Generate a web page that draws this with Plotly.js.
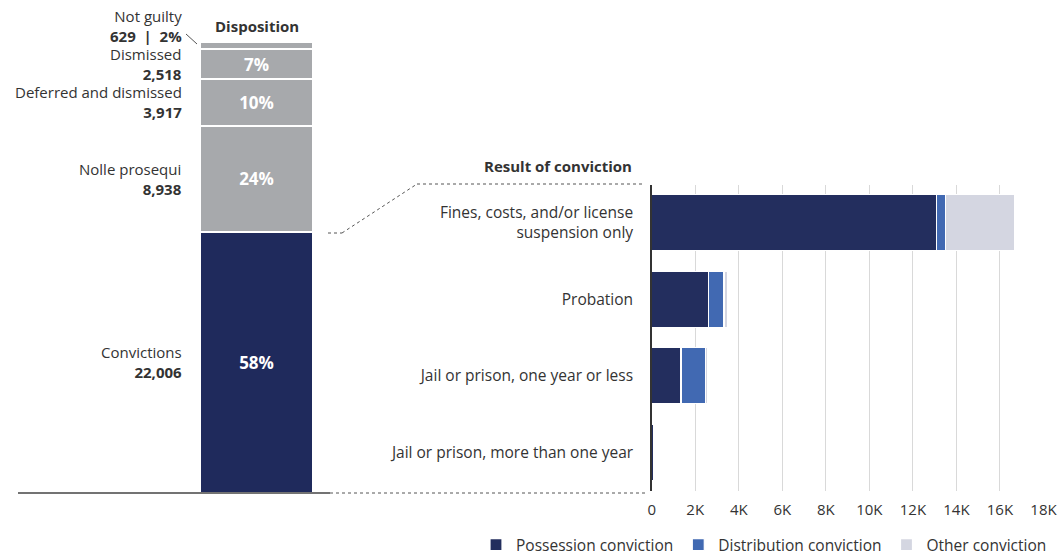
<!DOCTYPE html>
<html>
<head>
<meta charset="utf-8">
<script src="https://cdn.plot.ly/plotly-3.0.1.min.js"></script>
<style>html,body{margin:0;padding:0;background:#fff;}#chart{width:1059px;height:556px;}</style>
</head>
<body>
<div id="chart"></div>
<script>
// ---- Data ----
const dispCategories = ['Convictions', 'Nolle prosequi', 'Deferred and dismissed', 'Dismissed', 'Not guilty'];
const dispCounts = [22006, 8938, 3917, 2518, 629];

const resultCategories = ['Fines, costs, and/or license<br>suspension only', 'Probation', 'Jail or prison, one year or less', 'Jail or prison, more than one year'];
const possession = [13100, 2600, 1350, 70];
const distribution = [400, 720, 1110, 40];
const other = [3180, 150, 110, 10];

const seriesNames = ['Possession conviction', 'Distribution conviction', 'Other conviction'];
const xTickVals = [0, 2000, 4000, 6000, 8000, 10000, 12000, 14000, 16000, 18000];
const xTickLabels = ['0', '2K', '4K', '6K', '8K', '10K', '12K', '14K', '16K', '18K'];

// ---- Styles ----
const W = 1059, H = 556;
const FONT = 'Open Sans, Noto Sans, sans-serif';
const TXT = '#333333';
const dispColors = ['#1f2a5c', '#a7a9ac', '#a7a9ac', '#a7a9ac', '#a7a9ac'];
const seriesColors = ['#232e5e', '#4169b2', '#d4d6e1'];
const px = v => v / W;
const py = v => (H - v) / H;

const total = dispCounts.reduce((a, b) => a + b, 0);
const pct = dispCounts.map(c => Math.round(c / total * 100));

const traces = [];
dispCategories.forEach((cat, i) => {
  traces.push({
    type: 'bar', x: [0], y: [dispCounts[i]], width: [1],
    xaxis: 'x', yaxis: 'y', name: cat, showlegend: false,
    marker: {color: dispColors[i], line: {color: '#ffffff', width: 2}},
    text: [cat === 'Not guilty' ? '' : '<b>' + pct[i] + '%</b>'],
    textposition: 'inside', insidetextanchor: 'middle', constraintext: 'none',
    textfont: {family: FONT, size: 17, color: '#ffffff'},
    hoverinfo: 'skip'
  });
});

[possession, distribution, other].forEach((vals, i) => {
  traces.push({
    type: 'bar', orientation: 'h', x: vals, y: resultCategories,
    xaxis: 'x2', yaxis: 'y2', name: seriesNames[i],
    marker: {color: seriesColors[i], line: {color: '#ffffff', width: 1.2}},
    hoverinfo: 'skip'
  });
});

// Left side labels (annotations at segment centres)
const annotations = [];
let cum = 0;
dispCategories.forEach((cat, i) => {
  const mid = cum + dispCounts[i] / 2;
  cum += dispCounts[i];
  if (cat === 'Not guilty') {
    annotations.push({
      xref: 'paper', yref: 'paper', x: px(184), y: py(26), xanchor: 'right', yanchor: 'middle',
      align: 'right', showarrow: false,
      text: cat + '<br><b>' + dispCounts[i].toLocaleString('en-US') + '  |  ' + pct[i] + '%</b>',
      font: {family: FONT, size: 15, color: TXT}
    });
  } else {
    annotations.push({
      xref: 'paper', yref: 'y', x: px(184), y: mid, xanchor: 'right', yanchor: 'middle',
      align: 'right', showarrow: false,
      text: cat + '<br><b>' + dispCounts[i].toLocaleString('en-US') + '</b>',
      font: {family: FONT, size: 15, color: TXT}
    });
  }
});
annotations.push({
  xref: 'paper', yref: 'paper', x: px(256.5), y: py(26), xanchor: 'center', yanchor: 'middle',
  showarrow: false, text: '<b>Disposition</b>', font: {family: FONT, size: 15, color: TXT}
});
annotations.push({
  xref: 'paper', yref: 'paper', x: px(634), y: py(166), xanchor: 'right', yanchor: 'middle',
  showarrow: false, text: '<b>Result of conviction</b>', font: {family: FONT, size: 15, color: TXT}
});

const dot = {color: '#555555', width: 1, dash: 'dot'};
const shapes = [
  {type: 'line', xref: 'paper', yref: 'paper', x0: px(18), x1: px(330), y0: py(493), y1: py(493), line: {color: '#444444', width: 1.5}},
  {type: 'line', xref: 'paper', yref: 'paper', x0: px(330), x1: px(645), y0: py(493), y1: py(493), line: dot},
  {type: 'line', xref: 'paper', yref: 'paper', x0: px(328), x1: px(342), y0: py(233), y1: py(233), line: dot},
  {type: 'line', xref: 'paper', yref: 'paper', x0: px(342), x1: px(417), y0: py(233), y1: py(184), line: dot},
  {type: 'line', xref: 'paper', yref: 'paper', x0: px(417), x1: px(645), y0: py(184), y1: py(184), line: dot},
  {type: 'line', xref: 'paper', yref: 'paper', x0: px(186), x1: px(197), y0: py(34), y1: py(44), line: {color: '#555555', width: 1}}
];

const layout = {
  width: W, height: H,
  margin: {l: 0, r: 0, t: 0, b: 0, autoexpand: false},
  paper_bgcolor: '#ffffff', plot_bgcolor: 'rgba(0,0,0,0)',
  barmode: 'stack', bargap: 0.27,
  font: {family: FONT, size: 15, color: TXT},
  xaxis: {domain: [px(200), px(313)], range: [-0.5, 0.5], visible: false, fixedrange: true},
  yaxis: {domain: [py(493), py(41.7)], range: [0, total], visible: false, fixedrange: true},
  xaxis2: {
    domain: [px(651.7), px(1043.5)], range: [0, 18000], anchor: 'y2',
    tickvals: xTickVals, ticktext: xTickLabels, showgrid: true, gridcolor: '#d9d9d9', gridwidth: 1,
    zeroline: false, showline: false, ticks: '', tickfont: {family: FONT, size: 15, color: TXT},
    ticklabelstandoff: 8, fixedrange: true
  },
  yaxis2: {
    domain: [py(490.5), py(184.5)], anchor: 'x2', type: 'category',
    categoryorder: 'array', categoryarray: resultCategories, autorange: 'reversed',
    showline: true, linecolor: '#333333', linewidth: 1.5, ticks: '', showgrid: false,
    tickfont: {family: FONT, size: 15.5, color: TXT}, ticklabelstandoff: 14, fixedrange: true
  },
  legend: {
    orientation: 'h', x: px(1052), xanchor: 'right', y: py(545), yanchor: 'middle',
    font: {family: FONT, size: 15.5, color: TXT}, traceorder: 'normal', itemclick: false, itemdoubleclick: false,
    bgcolor: 'rgba(0,0,0,0)'
  },
  annotations: annotations,
  shapes: shapes,
  showlegend: true
};

Plotly.newPlot('chart', traces, layout, {displayModeBar: false, staticPlot: true});
</script>
</body>
</html>
